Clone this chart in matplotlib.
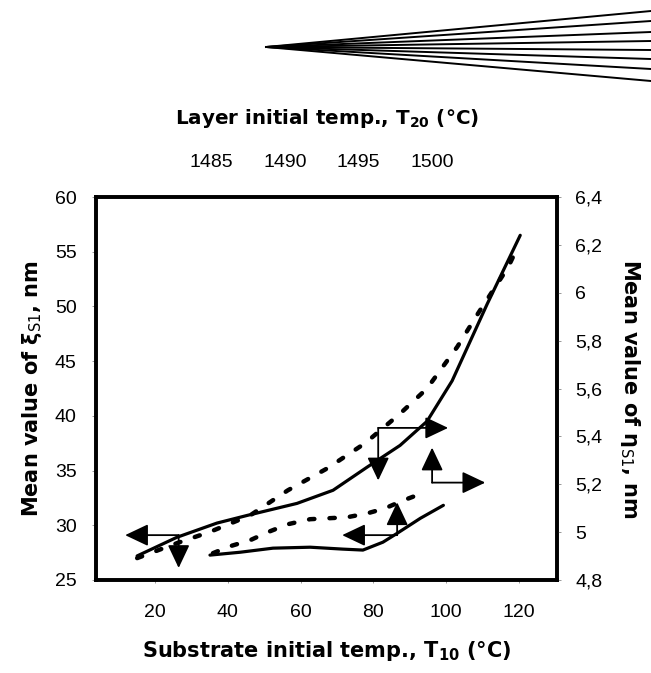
import matplotlib
matplotlib.use("Agg")
import matplotlib.pyplot as plt
from matplotlib.lines import Line2D

plt.rcParams['font.family'] = ['Liberation Sans', 'DejaVu Sans']
plt.rcParams['mathtext.fontset'] = 'custom'
plt.rcParams['mathtext.rm'] = 'DejaVu Sans'
plt.rcParams['mathtext.bf'] = 'DejaVu Sans:bold'
plt.rcParams['mathtext.it'] = 'DejaVu Sans:italic'

# ---- data ----
# upper pair: left axis (xi_S1, nm) vs substrate temperature
xi_solid_x = [15.1, 26.0, 37.0, 45.3, 59.0, 68.9, 78.2, 87.3, 94.7, 101.6, 111.2, 120.3]
xi_solid_y = [27.2, 28.9, 30.2, 30.9, 32.0, 33.2, 35.3, 37.3, 39.5, 43.2, 50.2, 56.5]
xi_dot_x = [15.1, 26.3, 35.1, 46.1, 56.5, 67.3, 77.7, 87.3, 94.7, 103.0, 108.8, 117.0, 119.7]
xi_dot_y = [27.0, 28.4, 29.4, 30.9, 33.2, 35.2, 37.5, 40.2, 42.5, 46.3, 49.4, 53.6, 55.5]
# lower pair: right axis (eta_S1, nm)
eta_solid_x = [35.1, 43.4, 52.4, 62.6, 71.6, 77.1, 82.6, 86.5, 92.9, 99.2]
eta_solid_y = [4.904, 4.916, 4.933, 4.937, 4.929, 4.925, 4.958, 4.995, 5.058, 5.112]
eta_dot_x = [35.9, 40.6, 46.1, 51.0, 56.5, 62.6, 72.7, 78.2, 83.1, 88.1, 94.7]
eta_dot_y = [4.912, 4.941, 4.966, 5.000, 5.033, 5.054, 5.062, 5.078, 5.099, 5.132, 5.170]

# axis ticks
x_ticks = [20, 40, 60, 80, 100, 120]
left_ticks = [25, 30, 35, 40, 45, 50, 55, 60]
right_ticks = [4.8, 5.0, 5.2, 5.4, 5.6, 5.8, 6.0, 6.2, 6.4]
right_labels = ['4,8', '5', '5,2', '5,4', '5,6', '5,8', '6', '6,2', '6,4']
top_ticks = [1485, 1490, 1495, 1500]

# arrows: (corner_x, corner_y, [(tip_x, tip_y), ...]) in left-axis data coords
arrows = [
    (26.5, 29.1, [(11.8, 29.1), (26.5, 26.1)]),
    (81.3, 38.9, [(81.3, 34.1), (100.5, 38.9)]),
    (96.1, 33.9, [(96.1, 37.1), (110.7, 33.9)]),
    (86.5, 29.1, [(86.5, 32.1), (71.4, 29.1)]),
]

# decorative fan at the top (figure pixel coords)
fan_apex = (266, 47)
fan_end_x = 651
fan_end_y = [11, 21, 32, 41, 50, 59, 69, 81]

W, H = 651, 673
fig = plt.figure(figsize=(W / 100, H / 100), dpi=100)
ax = fig.add_axes([96 / W, 1 - 580 / H, (557 - 96) / W, (580 - 197) / H])

TICK_FS = 14
LAB_FS = 15
LAB_FAMILY = ['DejaVu Sans']

ax.set_xlim(3.8, 130.4)
ax.set_ylim(25, 60)
ax.set_xticks(x_ticks)
ax.set_yticks(left_ticks)
ax.tick_params(axis='x', length=2, width=0.6, color='#888888', labelsize=TICK_FS, pad=15)
ax.tick_params(axis='y', length=3, width=0.6, color='#888888', labelsize=TICK_FS, pad=11)

lw_line = 2.3
ax.plot(xi_solid_x, xi_solid_y, color='black', lw=lw_line, solid_capstyle='round')
ax.plot(xi_dot_x, xi_dot_y, color='black', lw=3.2, linestyle=(0, (1.2, 3.4)),
        dash_capstyle='round')

ax2 = ax.twinx()
ax2.set_ylim(4.8, 6.4)
ax2.set_yticks(right_ticks)
ax2.set_yticklabels(right_labels)
ax2.tick_params(axis='y', length=3, width=0.6, color='#888888', labelsize=TICK_FS, pad=10)
ax2.plot(eta_solid_x, eta_solid_y, color='black', lw=lw_line, solid_capstyle='round')
ax2.plot(eta_dot_x, eta_dot_y, color='black', lw=3.2, linestyle=(0, (1.2, 3.4)),
         dash_capstyle='round')

for sp in ax2.spines.values():
    sp.set_linewidth(2.6)
for sp in ax.spines.values():
    sp.set_linewidth(2.6)

# arrows
for cx, cy, tips in arrows:
    for tx, ty in tips:
        ax.annotate('', xy=(tx, ty), xytext=(cx, cy),
                    arrowprops=dict(arrowstyle='-|>,head_length=0.95,head_width=0.45',
                                    mutation_scale=15, color='black', lw=1.3,
                                    shrinkA=0, shrinkB=0))

# top secondary axis (layer initial temperature)
x1485, slope = 35.4, 0.2471
sec = ax.secondary_xaxis('top', functions=(lambda x: 1485 + (x - x1485) * slope,
                                           lambda t: x1485 + (t - 1485) / slope))
sec.set_xticks(top_ticks)
sec.tick_params(length=0, labelsize=TICK_FS, pad=19)
sec.spines['top'].set_visible(False)
sec.set_xlabel(r'Layer initial temp., T$_{\mathbf{20}}$ (°C)', fontsize=14.3,
               fontweight='bold', family=LAB_FAMILY, labelpad=21)

ax.set_xlabel(r'Substrate initial temp., T$_{\mathbf{10}}$ (°C)', fontsize=LAB_FS,
              fontweight='bold', family=LAB_FAMILY, labelpad=13)
ax.set_ylabel(r'Mean value of ξ$_{\mathrm{S1}}$, nm', fontsize=LAB_FS,
              fontweight='bold', family=LAB_FAMILY, labelpad=8)
ax2.set_ylabel(r'Mean value of η$_{\mathrm{S1}}$, nm', fontsize=LAB_FS,
               fontweight='bold', family=LAB_FAMILY, rotation=270, labelpad=29)

# decorative fan
for ey in fan_end_y:
    fig.add_artist(Line2D([fan_apex[0] / W, fan_end_x / W],
                          [1 - fan_apex[1] / H, 1 - ey / H],
                          transform=fig.transFigure, color='black', lw=1.4))

fig.savefig('out.png', dpi=100)
